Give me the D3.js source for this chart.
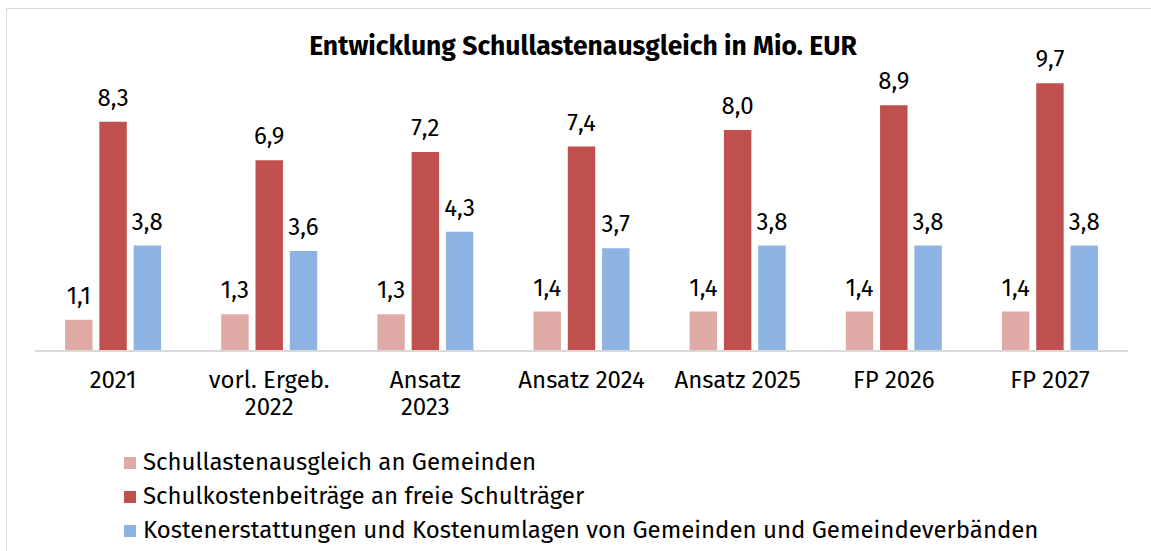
<!DOCTYPE html>
<html><head><meta charset="utf-8">
<script src="https://cdn.jsdelivr.net/npm/d3@7"></script>
<style>body{margin:0;background:#fff}svg{display:block}text{font-family:"Fira Sans","Noto Sans",sans-serif}</style>
</head><body><svg id="c" width="1151" height="551"></svg>
<script>
const categories = [["2021"],["vorl. Ergeb.","2022"],["Ansatz","2023"],["Ansatz 2024"],["Ansatz 2025"],["FP 2026"],["FP 2027"]];
const seriesNames = ["Schullastenausgleich an Gemeinden","Schulkostenbeiträge an freie Schulträger","Kostenerstattungen und Kostenumlagen von Gemeinden und Gemeindeverbänden"];
const s1 = [1.1,1.3,1.3,1.4,1.4,1.4,1.4];
const s2 = [8.3,6.9,7.2,7.4,8.0,8.9,9.7];
const s3 = [3.8,3.6,4.3,3.7,3.8,3.8,3.8];
const colors = ["#e0aba6","#c0504d","#8db3e2"];
const series = [s1,s2,s3];

const svg = d3.select("#c");
svg.append("rect").attr("x",6.5).attr("y",8.5).attr("width",1160).attr("height",560).attr("fill","#fff").attr("stroke","#d9d9d9").attr("stroke-width",1);

const x = d3.scaleBand().domain(d3.range(categories.length)).range([35,1128]);
const inner = d3.scaleBand().domain([0,1,2]).range([x.bandwidth()/2-48, x.bandwidth()/2+48]).paddingInner(0.2);
const y = d3.scaleLinear().domain([0,10]).range([350,75]);

svg.append("text").attr("x",583).attr("y",55).attr("text-anchor","middle").attr("font-weight","bold").attr("font-size",26.5).text("Entwicklung Schullastenausgleich in Mio. EUR");

const fmt = v => d3.format(".1f")(v).replace(".",",");
series.forEach((s,si)=>{
  const g = svg.append("g");
  g.selectAll("rect").data(s).join("rect")
    .attr("x",(d,i)=>x(i)+inner(si)).attr("width",inner.bandwidth())
    .attr("y",d=>y(d)).attr("height",d=>y(0)-y(d)).attr("fill",colors[si]);
  g.selectAll("text").data(s).join("text")
    .attr("x",(d,i)=>x(i)+inner(si)+inner.bandwidth()/2).attr("y",d=>y(d)-16)
    .attr("text-anchor","middle").attr("font-size",24).attr("fill","#000").text(fmt);
});

svg.append("line").attr("x1",35).attr("x2",1128).attr("y1",351).attr("y2",351).attr("stroke","#d9d9d9").attr("stroke-width",2);

const cl = svg.append("g");
categories.forEach((c,i)=>{
  const t = cl.append("text").attr("x",x(i)+x.bandwidth()/2).attr("y",388).attr("text-anchor","middle").attr("font-size",24);
  c.forEach((line,li)=>t.append("tspan").attr("x",x(i)+x.bandwidth()/2).attr("dy",li?27:0).text(line));
});

const lg = svg.append("g");
seriesNames.forEach((n,i)=>{
  const cy = 463 + i*34;
  lg.append("rect").attr("x",124).attr("y",cy-6).attr("width",12).attr("height",12).attr("fill",colors[i]);
  lg.append("text").attr("x",143).attr("y",cy+7).attr("font-size",24).text(n);
});
</script></body></html>
